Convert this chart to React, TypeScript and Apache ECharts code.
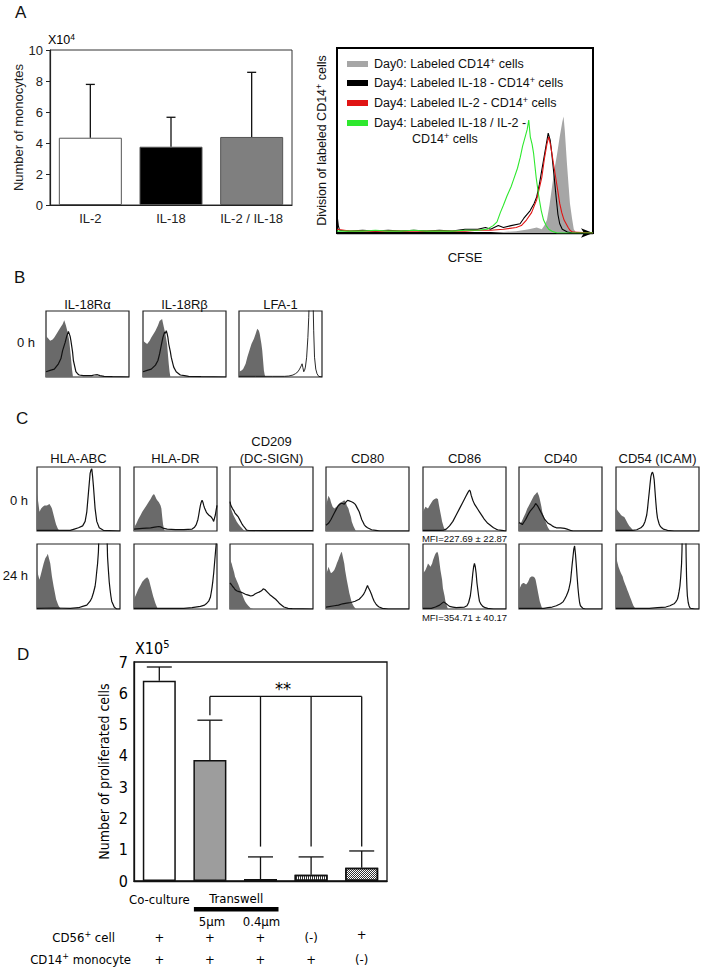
import React, { useEffect, useRef } from 'react';
import * as echarts from 'echarts';

const FONT_A = "'Liberation Sans', Arial, sans-serif";
const FONT_D = "'DejaVu Sans Condensed', 'DejaVu Sans', sans-serif";

// ---------- Panel A : monocyte counts ----------
const monoCategories = ['IL-2', 'IL-18', 'IL-2 / IL-18'];
const monoValues = [4.34, 3.76, 4.39];
const monoErrorTops = [7.78, 5.66, 8.56];

// ---------- Panel A : CFSE histograms (x = CFSE %, y = relative count %) ----------
const cfseLegend = [
  'Day0: Labeled CD14+ cells',
  'Day4: Labeled IL-18 - CD14+ cells',
  'Day4: Labeled IL-2 - CD14+ cells',
  'Day4: Labeled IL-18 / IL-2 - CD14+ cells',
];
const cfseDay0 = [[0,0],[60,0],[70,1],[75,2],[78,3],[80,2],[81,4],[82,7],[83,15],[84,25],[85,35],[86,43],[87,52],[88,60],[88.5,63],[89,55],[89.8,38],[90.5,25],[91,16],[91.8,8],[92.5,2],[93.5,0],[100,0]];
const cfseIL18 = [[0,10],[0.5,4],[1,1.5],[5,1],[10,1.5],[15,1],[20,1.5],[25,1],[30,1.5],[35,1],[40,1.5],[45,1],[50,2],[55,2],[58,3],[60,2],[63,4],[65,3],[68,4],[71.5,5],[73,8],[75.4,12],[77,16],[78,19.5],[79,26],[80,34],[81,42],[82,50],[82.5,54],[83.3,50],[83.9,43],[85,28],[85.7,18],[86.3,10],[87,5],[88,2],[90,0.5],[92,0],[100,0]];
const cfseIL2 = [[0,2],[5,1],[10,1],[20,1],[30,1],[40,1],[50,1],[55,1.5],[60,1.5],[65,2],[70,3],[72,4],[74,7],[76,11],[78,18],[79,24],[80,30],[81,40],[82,48],[82.7,52],[83.5,47],[84.5,38],[86,25],[87,16],[87.8,11],[88.7,7],[89.5,5],[90.3,3],[91,1.5],[92,0.5],[100,0]];
const cfseIL18IL2 = [[0,1],[5,1],[10,1],[15,1.5],[20,1],[25,1],[30,1.5],[35,1],[40,1],[45,1],[50,1.5],[55,1.5],[58.6,2],[61,4],[62.5,6],[63.8,11],[65,15],[66.4,20],[68,25],[69,29],[70.5,35],[71.6,41],[72.5,47],[73.5,52],[74.3,56],[74.9,61],[75.5,52],[76.2,48],[76.8,43],[77.8,30],[78.8,20],[79.8,12],[80.7,7],[81.7,4],[82.7,2],[84,1],[86,0],[100,0]];

// ---------- Panel B : receptor expression at 0 h ----------
const bMarkers = ['IL-18Rα', 'IL-18Rβ', 'LFA-1'];
const il18RaIso = [[0,62],[3,58],[5,55],[8,57],[10,60],[13,66],[15,70],[18,76],[20,80],[22,86],[24,78],[26,68],[28,55],[30,30],[31.5,10],[32.5,0],[100,0]];
const il18RaStain = [[0,8],[5,10],[10,12],[15,20],[18,28],[20,40],[23,52],[25,62],[27,69],[29,62],[30,55],[32,38],[33,25],[35,14],[36,8],[38,5],[40,3],[45,2],[50,2],[55,2],[58,3],[62,3.5],[65,2],[70,1],[80,0.5],[100,0]];
const il18RbIso = [[0,55],[3,52],[5,50],[8,55],[10,60],[13,66],[15,70],[18,78],[20,85],[23,88],[25,76],[27,65],[29,50],[30,35],[31,20],[32,8],[33,0],[100,0]];
const il18RbStain = [[0,8],[5,10],[10,12],[15,18],[18,25],[20,35],[22,48],[24,60],[26,68],[27,66],[28,70],[29,66],[30,60],[31,50],[33,38],[34,30],[36,20],[37,15],[40,8],[43,5],[45,3],[50,2],[55,1],[70,0.5],[100,0]];
const lfa1Iso = [[0,8],[3,10],[5,12],[8,20],[10,30],[13,42],[15,50],[18,58],[20,65],[22,73],[24,70],[25,65],[27,50],[28,40],[29,25],[30,10],[31,3],[32,0],[100,0]];
const lfa1Stain = [[0,1],[20,1],[40,1],[55,1],[60,1.5],[65,3],[68,5],[71,8],[73,12],[75,17],[76,20],[77,14],[78,8],[79,10],[80,15],[81.5,30],[83,60],[84,90],[85,130],[89,130],[90,70],[91,30],[92.5,12],[94,5],[96,1],[100,0]];
const bIso = [il18RaIso, il18RbIso, lfa1Iso];
const bStain = [il18RaStain, il18RbStain, lfa1Stain];

// ---------- Panel C : surface markers at 0 h and 24 h ----------
const cMarkers = ['HLA-ABC', 'HLA-DR', 'CD209\n(DC-SIGN)', 'CD80', 'CD86', 'CD40', 'CD54 (ICAM)'];
const cRows = ['0 h', '24 h'];
const cd86Mfi = ['MFI=227.69 ± 22.87', 'MFI=354.71 ± 40.17'];

const hlaAbc0Iso = [[0,58],[1.5,45],[3,30],[5,35],[7,38],[9,40],[12,40],[15,42],[17,38],[18,35],[20,25],[22,15],[23,10],[25,4],[26,2],[28,0],[100,0]];
const hlaAbc0Stain = [[0,1],[20,1],[40,1],[45,3],[50,5],[55,8],[58,15],[60,30],[62,60],[64,90],[65,95],[66,97],[67,85],[68,70],[70,35],[72,15],[75,5],[80,1],[100,0]];
const hlaAbc24Iso = [[0,60],[1.5,52],[3,45],[5,55],[6,60],[8,70],[10,78],[12,82],[13,85],[14,80],[16,70],[18,50],[20,35],[22,22],[23,15],[25,8],[26,5],[28,1],[29,0],[100,0]];
const hlaAbc24Stain = [[0,1],[20,1.5],[40,1],[50,2],[55,4],[60,6],[64,12],[66,17],[68,25],[70,35],[71,45],[72,58],[73,70],[74,88],[75,130],[84,130],[85,80],[86,60],[87,42],[88,30],[89,20],[90,12],[92,6],[93,3],[95,1],[96,0],[100,0]];

const hlaDr0Iso = [[0,5],[3,12],[5,18],[8,25],[10,30],[13,36],[15,40],[18,46],[20,50],[22,55],[24,58],[25,56],[27,50],[28,48],[30,45],[32,40],[33,35],[34,22],[35,10],[36,4],[37,0],[100,0]];
const hlaDr0Stain = [[0,3],[10,4],[20,5],[25,6],[30,7],[33,6],[36,4],[40,3],[50,2],[60,2],[65,2.5],[70,3],[73,6],[75,10],[77,18],[78,25],[79,33],[80,40],[81,45],[82,48],[83,45],[84,40],[85,36],[87,30],[88,28],[90,25],[92,23],[93,22],[95,18],[96,15],[97,20],[98,25],[99,33],[100,40]];
const hlaDr24Iso = [[0,15],[3,24],[5,30],[8,37],[10,42],[13,46],[15,48],[16,49],[18,45],[20,35],[22,25],[23,20],[25,12],[26,8],[28,2],[29,0],[100,0]];
const hlaDr24Stain = [[0,1],[20,1],[40,1],[60,1],[70,2],[80,4],[85,6],[87,8],[90,12],[92,18],[93,25],[94,33],[95,43],[96,55],[97,70],[98,85],[99,100],[100,110]];

const cd209_0Iso = [[0,40],[2,32],[4,25],[6,20],[8,15],[10,11],[12,8],[14,5],[16,2],[18,0],[100,0]];
const cd209_0Stain = [[0,46],[1,40],[3,35],[5,31],[6,28],[8,25],[10,22],[12,17],[14,12],[16,8],[18,5],[20,1.5],[22,1],[40,0.5],[60,0.5],[80,0.5],[100,0.5]];
const cd209_24Iso = [[0,76],[2,70],[3,65],[5,56],[6,50],[8,44],[10,38],[12,31],[14,25],[16,18],[18,12],[20,8],[22,5],[25,1],[28,0],[100,0]];
const cd209_24Stain = [[0,40],[2,37],[3,35],[5,32],[6,30],[8,28],[10,27],[13,26],[15,25],[18,23],[20,22],[23,21],[25,20],[28,21],[30,23],[33,25],[35,26],[38,28],[40,31],[42,30],[45,26],[48,22],[50,20],[53,17],[55,15],[58,11],[60,8],[63,5],[65,3],[70,1],[75,0.5],[100,0]];

const cd80_0Iso = [[0,40],[2,50],[3,55],[5,50],[6,45],[8,38],[10,35],[12,37],[14,40],[16,43],[18,45],[20,46],[22,48],[24,45],[25,40],[27,35],[28,30],[30,22],[31,15],[33,8],[34,5],[36,0],[100,0]];
const cd80_0Stain = [[0,9],[3,12],[6,18],[8,23],[10,28],[12,33],[14,38],[16,41],[18,43],[20,43],[22,42],[24,45],[26,48],[28,47],[30,46],[32,45],[33,44],[35,42],[36,40],[38,35],[40,30],[42,22],[43,18],[45,13],[46,10],[48,7],[50,5],[55,2],[60,1],[65,0],[100,0]];
const cd80_24Iso = [[0,54],[2,60],[3,65],[5,58],[6,55],[8,57],[10,60],[12,66],[13,70],[15,76],[16,80],[18,86],[19,88],[20,82],[22,70],[23,60],[25,45],[27,32],[28,25],[30,15],[31,10],[33,5],[34,3],[36,0],[100,0]];
const cd80_24Stain = [[0,3],[10,5],[15,6],[20,8],[25,9],[30,10],[35,12],[40,15],[43,19],[45,22],[47,27],[48,30],[50,36],[51,33],[53,28],[55,22],[56,18],[58,12],[60,8],[62,5],[64,3],[68,1],[75,0],[100,0]];

const cd86_0Iso = [[0,30],[2,35],[3,38],[5,36],[6,35],[8,40],[10,44],[12,48],[14,50],[16,51],[18,50],[19,42],[20,35],[22,22],[23,15],[25,6],[26,3],[28,0],[100,0]];
const cd86_0Stain = [[0,1],[20,1],[25,1.5],[28,3],[32,8],[36,15],[40,25],[44,35],[48,45],[50,50],[52,55],[54,60],[56,64],[57,62],[58,56],[60,48],[62,42],[64,38],[66,34],[68,30],[70,26],[72,22],[74,18],[76,15],[78,12],[80,10],[83,7],[85,5],[88,3],[90,2],[95,1],[100,0]];
const cd86_24Iso = [[0,55],[2,58],[3,60],[5,66],[6,70],[8,67],[9,65],[11,70],[12,75],[14,82],[15,85],[17,88],[18,86],[19,80],[20,70],[21,60],[23,45],[24,32],[26,20],[27,12],[28,8],[30,0],[100,0]];
const cd86_24Stain = [[0,1],[10,1],[15,3],[20,6],[23,9],[25,11],[27,9],[28,8],[30,6],[32,4],[36,3],[40,2],[50,3],[53,5],[55,10],[57,20],[58,30],[59,42],[60,55],[61,65],[62,70],[63,65],[64,55],[65,40],[66,30],[67,20],[68,12],[70,7],[72,4],[75,2],[78,1],[85,0],[100,0]];

const cd40_0Iso = [[0,8],[3,14],[5,20],[8,28],[10,35],[12,40],[14,45],[16,50],[18,55],[20,58],[22,61],[24,55],[25,50],[27,38],[28,30],[30,22],[32,15],[34,8],[35,5],[37,1],[38,0],[100,0]];
const cd40_0Stain = [[0,13],[2,12],[4,10],[6,14],[8,18],[10,23],[12,28],[14,32],[16,35],[18,38],[20,43],[22,40],[23,38],[25,33],[27,28],[29,23],[31,18],[33,15],[35,12],[38,10],[40,8],[43,6],[45,5],[50,5],[55,4],[58,3],[60,2],[62,1],[65,0],[100,0]];
const cd40_24Iso = [[0,30],[2,35],[3,38],[5,40],[6,40],[8,38],[9,38],[11,42],[13,48],[15,50],[17,50],[19,48],[20,45],[22,32],[23,25],[25,12],[26,8],[28,0],[100,0]];
const cd40_24Stain = [[0,1],[15,1],[30,1],[35,2],[40,3],[45,5],[50,8],[53,11],[55,15],[57,20],[59,26],[60,30],[62,42],[63,55],[64,68],[65,80],[66,92],[67,97],[68,85],[69,68],[70,50],[71,33],[72,20],[73,10],[74,5],[77,1],[80,0],[100,0]];

const cd54_0Iso = [[0,35],[2,32],[3,30],[5,27],[6,25],[8,23],[10,22],[12,17],[14,12],[16,8],[18,5],[20,2],[22,1],[25,0],[100,0]];
const cd54_0Stain = [[0,1],[20,1],[25,2],[30,5],[33,9],[35,15],[37,25],[38,35],[39,48],[40,60],[41,73],[42,85],[43,90],[44,92],[45,88],[46,80],[47,62],[48,45],[49,30],[50,20],[52,11],[53,8],[55,5],[57,3],[60,2],[62,1],[70,0],[100,0]];
const cd54_24Iso = [[0,81],[1,75],[3,65],[5,58],[6,55],[8,50],[9,45],[11,38],[12,35],[14,28],[15,25],[17,18],[18,15],[20,8],[21,5],[23,1],[24,0],[100,0]];
const cd54_24Stain = [[0,1],[30,1],[40,1],[50,2],[55,2.5],[60,3],[65,5],[68,7],[70,8],[72,11],[74,15],[75,20],[76,27],[77,35],[78,50],[79,70],[79.5,90],[80,130],[84,130],[84.5,80],[85,50],[85.5,32],[86,20],[87,10],[88,5],[89,2],[90,1],[95,0],[100,0]];

const cIso = [
  [hlaAbc0Iso, hlaDr0Iso, cd209_0Iso, cd80_0Iso, cd86_0Iso, cd40_0Iso, cd54_0Iso],
  [hlaAbc24Iso, hlaDr24Iso, cd209_24Iso, cd80_24Iso, cd86_24Iso, cd40_24Iso, cd54_24Iso],
];
const cStain = [
  [hlaAbc0Stain, hlaDr0Stain, cd209_0Stain, cd80_0Stain, cd86_0Stain, cd40_0Stain, cd54_0Stain],
  [hlaAbc24Stain, hlaDr24Stain, cd209_24Stain, cd80_24Stain, cd86_24Stain, cd40_24Stain, cd54_24Stain],
];

// ---------- Panel D : proliferated cells ----------
const dCategories = ['Co-culture', 'Transwell 5μm', 'Transwell 0.4μm', 'CD56- ', 'CD14-'];
const dValues = [6.4, 3.87, 0.06, 0.2, 0.42];
const dErrorTops = [6.84, 5.14, 0.77, 0.77, 0.96];
const bracketFrom = 1;
const bracketLevel = 5.9;
const bracketDrops = [5.3, 1.1, 1.1, 1.1];
const cd56Row = ['+', '+', '+', '(-)', '+'];
const cd14Row = ['+', '+', '+', '+', '(-)'];

// ---------- styles ----------
const monoFill = ['#ffffff', '#000000', '#7f7f7f'];
const cfseColors = ['#a6a6a6', '#000000', '#e01414', '#2ee82e'];

function errorSeries(idx: number, vals: number[], tops: number[], cap: number, lw: number, color: string) {
  return {
    type: 'custom',
    xAxisIndex: idx,
    yAxisIndex: idx,
    silent: true,
    z: 3,
    data: vals.map((v, i) => [i, v, tops[i]]),
    encode: { x: 0, y: [1, 2] },
    renderItem: (_p: any, api: any) => {
      const x = api.value(0);
      const a = api.coord([x, api.value(1)]);
      const b = api.coord([x, api.value(2)]);
      const st = { stroke: color, lineWidth: lw, fill: 'none' };
      return {
        type: 'group',
        children: [
          { type: 'line', shape: { x1: a[0], y1: a[1], x2: b[0], y2: b[1] }, style: st },
          { type: 'line', shape: { x1: b[0] - cap / 2, y1: b[1], x2: b[0] + cap / 2, y2: b[1] }, style: st },
        ],
      };
    },
  };
}

function supText(main1: string, sup: string, main2: string) {
  return `{a|${main1}}{s|${sup}}{a|${main2}}`;
}

export default function App() {
  const ref = useRef<HTMLDivElement>(null);
  useEffect(() => {
    if (!ref.current) return;
    const chart = echarts.init(ref.current, null, { renderer: 'svg' });
    const grids: any[] = [];
    const xAxes: any[] = [];
    const yAxes: any[] = [];
    const series: any[] = [];
    const addGrid = (g: any, xa: any, ya: any) => {
      const i = grids.length;
      grids.push(g);
      xAxes.push({ ...xa, gridIndex: i });
      yAxes.push({ ...ya, gridIndex: i });
      return i;
    };
    const hidden = { type: 'value', min: 0, max: 100, show: false };

    // ---- A bars
    const aBar = addGrid(
      { left: 50, top: 50, width: 242, height: 155, show: true, borderColor: '#333', borderWidth: 1, backgroundColor: '#fff' },
      {
        type: 'category', data: monoCategories,
        axisLine: { lineStyle: { color: '#222', width: 1.2 } }, axisTick: { show: false },
        axisLabel: { interval: 0, fontFamily: FONT_A, fontSize: 13, color: '#222', margin: 7 },
      },
      {
        type: 'value', min: 0, max: 10, interval: 2,
        axisLine: { show: true, lineStyle: { color: '#222', width: 1.2 } },
        axisTick: { show: true, length: 4, lineStyle: { color: '#222' } },
        axisLabel: { fontFamily: FONT_A, fontSize: 13, color: '#222', margin: 7 },
        splitLine: { show: false },
        name: 'Number of monocytes', nameLocation: 'middle', nameRotate: 90, nameGap: 24,
        nameTextStyle: { fontFamily: FONT_A, fontSize: 13, color: '#222' },
      }
    );
    series.push({
      type: 'bar', xAxisIndex: aBar, yAxisIndex: aBar, barWidth: 63, silent: true,
      data: monoValues.map((v, i) => ({ value: v, itemStyle: { color: monoFill[i], borderColor: '#555', borderWidth: 1 } })),
    });
    series.push(errorSeries(aBar, monoValues, monoErrorTops, 9, 1.3, '#111'));

    // ---- A CFSE histogram
    const richA = {
      a: { fontFamily: FONT_A, fontSize: 12.5, color: '#111', lineHeight: 16 },
      s: { fontFamily: FONT_A, fontSize: 9, color: '#111', lineHeight: 6, verticalAlign: 'top' },
    };
    const aHist = addGrid(
      { left: 337, top: 48, width: 256, height: 185, show: true, borderColor: '#000', borderWidth: 2, backgroundColor: '#fff' },
      {
        type: 'value', min: 0, max: 100, offset: 12,
        axisLine: { show: true, symbol: ['none', 'arrow'], symbolSize: [7, 12], lineStyle: { color: '#000', width: 1.3 } },
        axisTick: { show: false }, axisLabel: { show: false }, splitLine: { show: false },
        name: 'CFSE', nameLocation: 'middle', nameGap: 6,
        nameTextStyle: { fontFamily: FONT_A, fontSize: 13, color: '#111' },
      },
      {
        type: 'value', min: 0, max: 100,
        axisLine: { show: false }, axisTick: { show: false }, axisLabel: { show: false }, splitLine: { show: false },
        name: supText('Division of labeled CD14', '+', ' cells'), nameLocation: 'middle', nameRotate: 90, nameGap: 7,
        nameTextStyle: { rich: richA },
      }
    );
    const cfseData = [cfseDay0, cfseIL18, cfseIL2, cfseIL18IL2];
    cfseData.forEach((d, i) => {
      series.push({
        type: 'line', name: cfseLegend[i], xAxisIndex: aHist, yAxisIndex: aHist, data: d,
        symbol: 'none', silent: true,
        itemStyle: { color: cfseColors[i] },
        lineStyle: i === 0 ? { width: 0, color: cfseColors[i] } : { width: 1.1, color: cfseColors[i] },
        areaStyle: i === 0 ? { color: cfseColors[i], opacity: 1 } : undefined,
      });
    });

    const addHist = (left: number, top: number, w: number, h: number, iso: number[][], stain: number[][], lw: number) => {
      const g = addGrid(
        { left, top, width: w, height: h, show: true, borderColor: '#222', borderWidth: 1.2, backgroundColor: '#fff' },
        hidden, hidden
      );
      series.push({
        type: 'line', xAxisIndex: g, yAxisIndex: g, data: iso, symbol: 'none', silent: true,
        lineStyle: { width: 0, color: '#6a6a6a' }, areaStyle: { color: '#6a6a6a', opacity: 1 },
      });
      series.push({
        type: 'line', xAxisIndex: g, yAxisIndex: g, data: stain, symbol: 'none', silent: true,
        lineStyle: { width: lw, color: '#111' },
      });
    };

    // ---- B
    const bLefts = [46, 143, 239];
    bLefts.forEach((l, i) => addHist(l, 311, 83, 66, bIso[i], bStain[i], i === 2 ? 0.9 : 1.2));

    // ---- C
    const cLefts = [37, 134, 230, 326, 423, 519, 616];
    const cTops = [467, 544];
    const cHeights = [64, 65];
    cTops.forEach((t, r) => cLefts.forEach((l, i) => addHist(l, t, 83, cHeights[r], cIso[r][i], cStain[r][i], 1.2)));

    // ---- D
    const dG = addGrid(
      { left: 134, top: 662, width: 253, height: 219, show: true, borderColor: '#111', borderWidth: 1.3, backgroundColor: '#fff' },
      {
        type: 'category', data: dCategories,
        axisLine: { lineStyle: { color: '#111', width: 1.3 } }, axisTick: { show: false }, axisLabel: { show: false },
      },
      {
        type: 'value', min: 0, max: 7, interval: 1,
        axisLine: { show: true, lineStyle: { color: '#111', width: 1.3 } }, axisTick: { show: false },
        axisLabel: { fontFamily: FONT_D, fontSize: 16, color: '#000', margin: 6 },
        splitLine: { show: false },
        name: 'Number of proliferated cells', nameLocation: 'middle', nameRotate: 90, nameGap: 23,
        nameTextStyle: { fontFamily: FONT_D, fontSize: 14, color: '#000' },
      }
    );
    const dStyles: any[] = [
      { color: '#ffffff' },
      { color: '#9d9d9d' },
      { color: '#000000' },
      { color: '#ffffff', decal: { symbol: 'rect', symbolSize: 1, dashArrayX: [1, 1], dashArrayY: [4, 0], color: '#333' } },
      { color: '#ffffff', decal: { symbol: 'rect', symbolSize: 1, dashArrayX: [[1, 1], [0, 1, 1, 0]], dashArrayY: [1, 0], color: '#333' } },
    ];
    series.push({
      type: 'bar', xAxisIndex: dG, yAxisIndex: dG, barWidth: 33, silent: true,
      data: dValues.map((v, i) => ({ value: v, itemStyle: { ...dStyles[i], borderColor: '#111', borderWidth: 1.5 } })),
    });
    series.push(errorSeries(dG, dValues, dErrorTops, 25, 1.3, '#111'));
    series.push({
      type: 'custom', xAxisIndex: dG, yAxisIndex: dG, silent: true, z: 3,
      data: bracketDrops.map((e, i) => [bracketFrom + i, bracketLevel, e]),
      encode: { x: 0, y: [1, 2] },
      renderItem: (p: any, api: any) => {
        const x = api.value(0);
        const top = api.coord([x, api.value(1)]);
        const bot = api.coord([x, api.value(2)]);
        const st = { stroke: '#111', lineWidth: 1.3, fill: 'none' };
        const children: any[] = [{ type: 'line', shape: { x1: top[0], y1: top[1], x2: bot[0], y2: bot[1] }, style: st }];
        if (p.dataIndex === 0) {
          const end = api.coord([bracketFrom + bracketDrops.length - 1, api.value(1)]);
          children.push({ type: 'line', shape: { x1: top[0], y1: top[1], x2: end[0], y2: end[1] }, style: st });
        }
        return { type: 'group', children };
      },
    });

    chart.setOption({
      animation: false,
      grid: grids,
      xAxis: xAxes,
      yAxis: yAxes,
      series,
    });

    // ---- annotations
    const colX = dCategories.map((_, i) => chart.convertToPixel({ gridIndex: dG } as any, [i, 0])[0]);
    const txt = (x: number, y: number, text: string, font: string, size: number, align = 'center', extra: any = {}) => ({
      type: 'text', x, y, silent: true,
      style: { text, fontFamily: font, fontSize: size, fill: '#111', align, verticalAlign: 'middle', ...extra },
    });
    const richSup = (font: string, size: number, sup: number) => ({
      a: { fontFamily: font, fontSize: size, fill: '#000', lineHeight: size + 3 },
      s: { fontFamily: font, fontSize: sup, fill: '#000', lineHeight: 4, verticalAlign: 'top' },
    });
    const g: any[] = [];
    g.push(txt(15, 12, 'A', FONT_A, 17, 'left'));
    g.push(txt(14, 277, 'B', FONT_A, 17, 'left'));
    g.push(txt(16, 418, 'C', FONT_A, 17, 'left'));
    g.push(txt(17, 654, 'D', FONT_A, 17, 'left'));

    g.push(txt(48, 40, supText('X10', '4', ''), FONT_A, 12.5, 'left', { rich: richSup(FONT_A, 12.5, 8.5) }));
    g.push(txt(135, 648, supText('X10', '5', ''), FONT_D, 16, 'left', { rich: richSup(FONT_D, 16, 11) }));

    // CFSE legend
    const legY = [64, 83, 103, 123];
    const legTexts = [
      supText('Day0: Labeled CD14', '+', ' cells'),
      supText('Day4: Labeled IL-18 - CD14', '+', ' cells'),
      supText('Day4: Labeled IL-2 - CD14', '+', ' cells'),
      '{a|Day4: Labeled IL-18 / IL-2 -}\n{sp| }' + supText('CD14', '+', ' cells'),
    ];
    legY.forEach((y, i) => {
      g.push({ type: 'rect', silent: true, shape: { x: 347, y: y - 3, width: 21, height: 6 }, style: { fill: cfseColors[i] } });
      g.push({
        type: 'text', x: 374, y: y - 8, silent: true,
        style: {
          text: legTexts[i], align: 'left', verticalAlign: 'top',
          rich: {
            a: { fontFamily: FONT_A, fontSize: 12.5, fill: '#111', lineHeight: 16 },
            s: { fontFamily: FONT_A, fontSize: 9, fill: '#111', lineHeight: 6, verticalAlign: 'top' },
            sp: { fontFamily: FONT_A, fontSize: 12.5, lineHeight: 16, width: 38 },
          },
        },
      });
    });

    // B titles
    bMarkers.forEach((m, i) => g.push(txt(bLefts[i] + 41.5, 304, m, FONT_A, 13)));
    g.push(txt(35, 342, '0 h', FONT_A, 13, 'right'));

    // C titles
    cMarkers.forEach((m, i) => {
      if (m.includes('\n')) g.push(txt(cLefts[i] + 41.5, 449.5, m, FONT_A, 13, 'center', { lineHeight: 17 }));
      else g.push(txt(cLefts[i] + 41.5, 458, m, FONT_A, 13));
    });
    g.push(txt(28, 500, cRows[0], FONT_A, 13, 'right'));
    g.push(txt(28, 575.5, cRows[1], FONT_A, 13, 'right'));
    g.push(txt(464.5, 538, cd86Mfi[0], FONT_A, 9.5));
    g.push(txt(464.5, 617, cd86Mfi[1], FONT_A, 9.5));

    // D annotations
    const dFill = { fill: '#000' };
    g.push(txt(283, 688, '**', FONT_D, 18, 'center', dFill));
    g.push(txt(colX[0], 899, 'Co-culture', FONT_D, 13, 'center', dFill));
    g.push(txt((colX[1] + colX[2]) / 2 + 1, 898, 'Transwell', FONT_D, 13, 'center', dFill));
    g.push({ type: 'rect', silent: true, shape: { x: colX[1] - 16, y: 907, width: colX[2] - colX[1] + 34, height: 4.5 }, style: { fill: '#000' } });
    g.push(txt(colX[1] + 2, 921, '5μm', FONT_D, 13, 'center', dFill));
    g.push(txt(colX[2] + 1, 921, '0.4μm', FONT_D, 13, 'center', dFill));
    g.push(txt(115, 937, supText('CD56', '+', ' cell'), FONT_D, 13, 'right', { rich: richSup(FONT_D, 13, 9) }));
    g.push(txt(131, 959, supText('CD14', '+', ' monocyte'), FONT_D, 13, 'right', { rich: richSup(FONT_D, 13, 9) }));
    cd56Row.forEach((t, i) => g.push(txt(colX[i], i === 4 ? 934 : 937, t, FONT_D, 13, 'center', dFill)));
    cd14Row.forEach((t, i) => g.push(txt(colX[i], 959, t, FONT_D, 13, 'center', dFill)));

    chart.setOption({ graphic: g });

    return () => chart.dispose();
  }, []);

  return <div ref={ref} style={{ position: 'absolute', left: 0, top: 0, width: 704, height: 971, background: '#fff' }} />;
}
